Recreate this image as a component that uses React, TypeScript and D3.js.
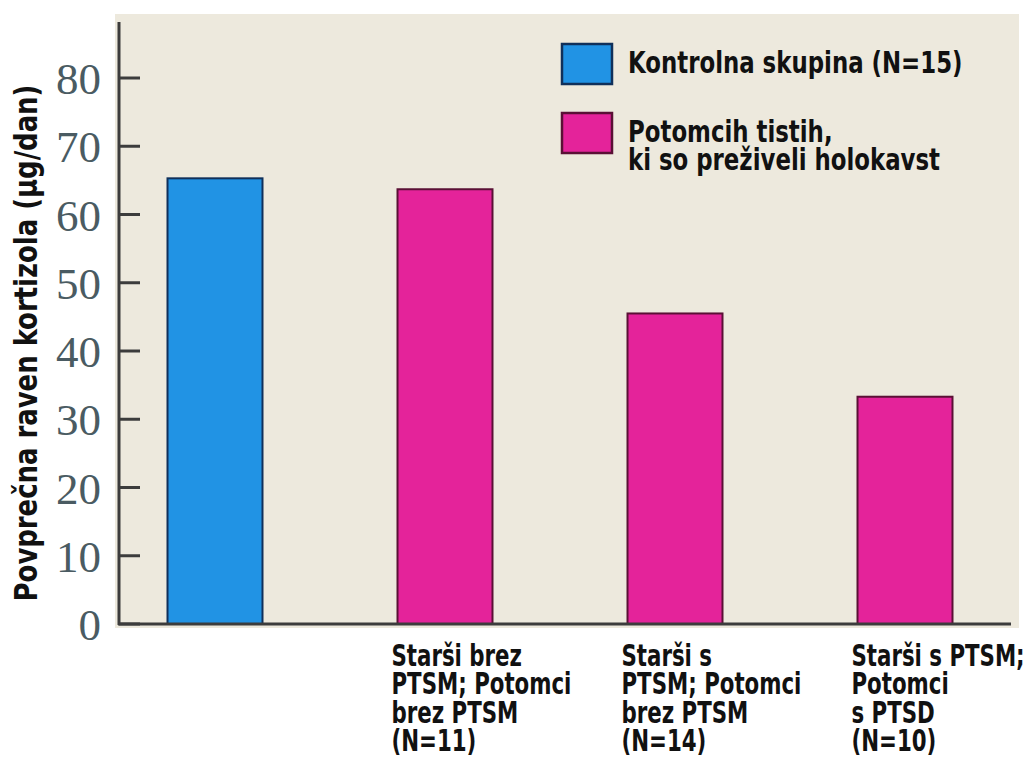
import React from "react";
import * as d3 from "d3";

const categories = ["control", "noPtsmNoPtsm", "ptsmNoPtsm", "ptsmPtsd"];
const values = [65.3, 63.7, 45.5, 33.3];
const groups = ["control", "offspring", "offspring", "offspring"];
const categoryLabels = [
  [],
  ["Starši brez", "PTSM; Potomci", "brez PTSM", "(N=11)"],
  ["Starši s", "PTSM; Potomci", "brez PTSM", "(N=14)"],
  ["Starši s PTSM;", "Potomci", "s PTSD", "(N=10)"],
];
const yTicks = [0, 10, 20, 30, 40, 50, 60, 70, 80];
const legendItems = [
  { key: "control", lines: ["Kontrolna skupina (N=15)"] },
  { key: "offspring", lines: ["Potomcih tistih,", "ki so preživeli holokavst"] },
];
const yLabel = "Povprečna raven kortizola (µg/dan)";

const fillColors: Record<string, string> = { control: "#2193e4", offspring: "#e4239a" };
const strokeColors: Record<string, string> = { control: "#10305a", offspring: "#5a1035" };

const FONT = "'Liberation Sans Narrow', 'DejaVu Sans Condensed', 'Liberation Sans', sans-serif";
const SX = 0.82;
const SX_CAT = 0.79;

export default function App() {
  const W = 1026, H = 762;
  const y = d3.scaleLinear().domain([0, 80]).range([624, 78]);
  const x = d3
    .scaleBand<string>()
    .domain(categories)
    .range([100, 1020])
    .paddingInner(0.587)
    .paddingOuter(0.2935);

  return (
    <svg width={W} height={H} style={{ position: "absolute", left: 0, top: 0, background: "#fff" }}>
      {/* panel */}
      <rect x={115} y={14} width={904} height={614} fill="#ede9dd" />
      {/* bars */}
      {categories.map((c, i) => (
        <rect
          key={c}
          x={x(c)}
          y={y(values[i])}
          width={x.bandwidth()}
          height={y(0) - y(values[i])}
          fill={fillColors[groups[i]]}
          stroke={strokeColors[groups[i]]}
          strokeWidth={2}
        />
      ))}
      {/* axes */}
      <line x1={119} x2={119} y1={22} y2={y(0) + 1} stroke="#3c3c3c" strokeWidth={3} />
      <line x1={118} x2={1011} y1={y(0)} y2={y(0)} stroke="#3c3c3c" strokeWidth={3} />
      {yTicks.map((t) => (
        <g key={t}>
          <line x1={119} x2={140} y1={y(t)} y2={y(t)} stroke="#3c3c3c" strokeWidth={3} />
          <text
            x={101}
            y={y(t) + 16}
            textAnchor="end"
            fontFamily="'Liberation Serif', 'Times New Roman', serif"
            fontSize={45}
            fill="#4a5b62"
          >
            {t}
          </text>
        </g>
      ))}
      {/* y label */}
      <g transform={`translate(37, ${(y(0) + y(80)) / 2 - 8}) rotate(-90) scale(0.9, 1)`}>
        <text textAnchor="middle" fontFamily={FONT} fontWeight="bold" fontSize={32} fill="#111">
          {yLabel}
        </text>
      </g>
      {/* category labels */}
      {categories.map((c, i) => (
        <g key={c} transform={`translate(${(x(c) as number) - 6}, 0) scale(${SX_CAT}, 1)`}>
          <text fontFamily={FONT} fontWeight="bold" fontSize={30} fill="#111">
            {categoryLabels[i].map((l, j) => (
              <tspan key={j} x={0} y={666 + j * 28.4}>
                {l}
              </tspan>
            ))}
          </text>
        </g>
      ))}
      {/* legend */}
      {legendItems.map((it, i) => (
        <g key={it.key} transform={`translate(562, ${44 + i * 69})`}>
          <rect width={50} height={40} fill={fillColors[it.key]} stroke={strokeColors[it.key]} strokeWidth={2.5} />
          <g transform={`translate(66, 0) scale(${SX}, 1)`}>
            <text fontFamily={FONT} fontWeight="bold" fontSize={31} fill="#111">
              {it.lines.map((l, j) => (
                <tspan key={j} x={0} y={29 + j * 28}>
                  {l}
                </tspan>
              ))}
            </text>
          </g>
        </g>
      ))}
    </svg>
  );
}
